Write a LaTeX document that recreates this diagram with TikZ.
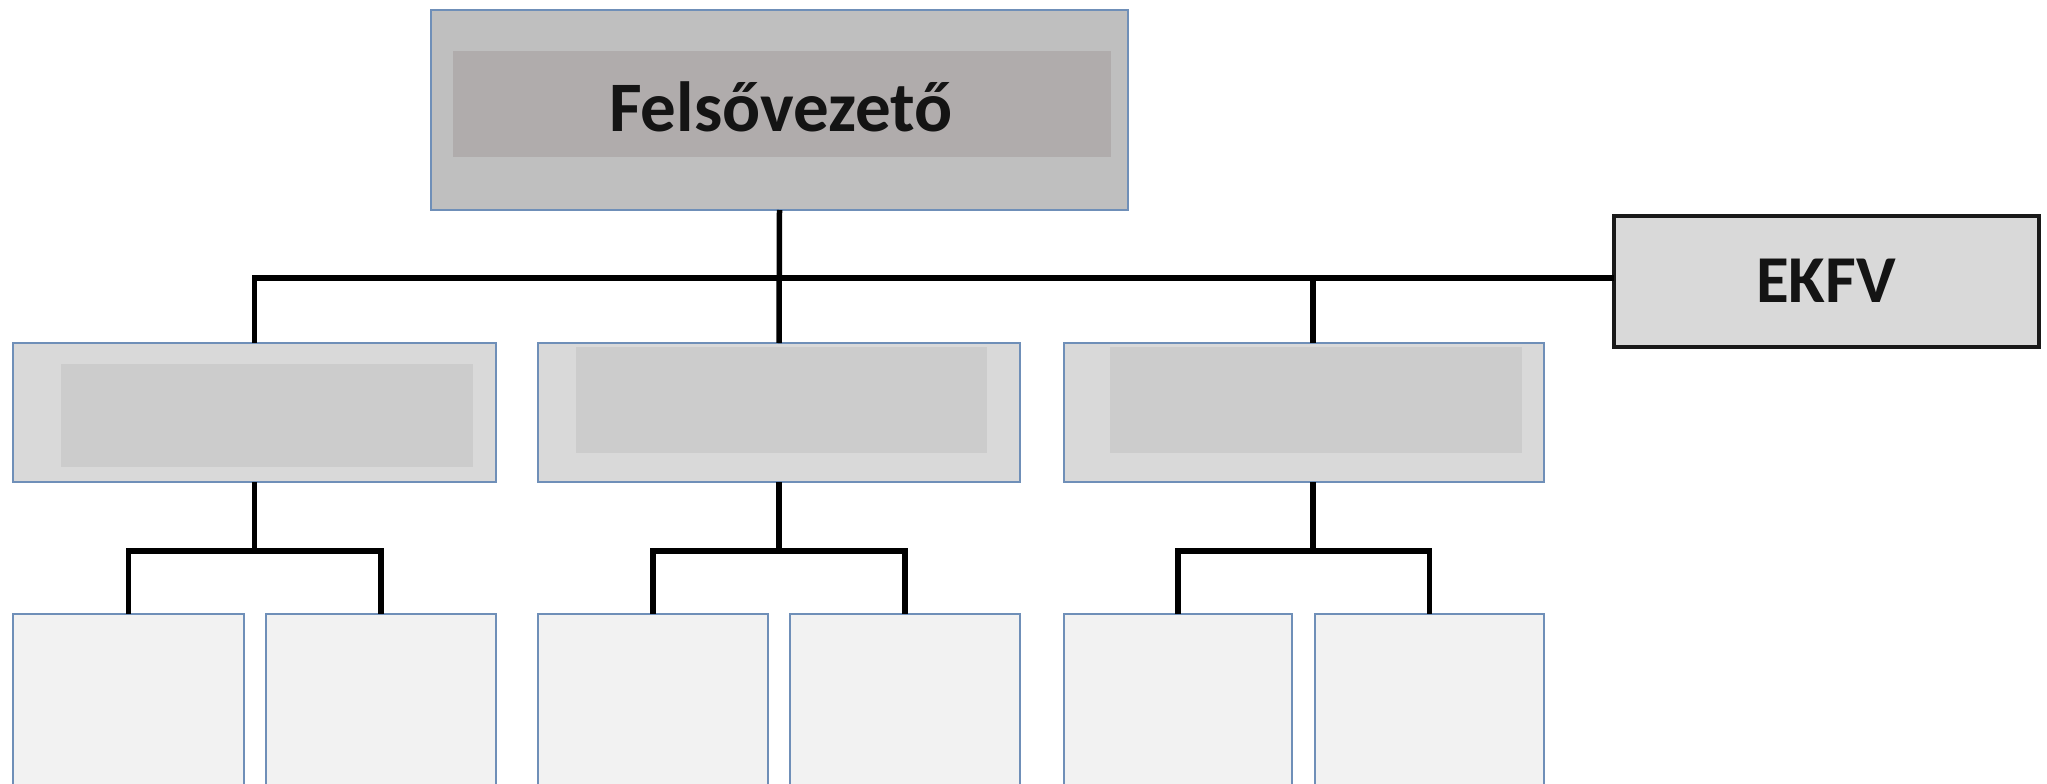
\documentclass[tikz,border=0pt]{standalone}
\usepackage{fontspec}
\setmainfont{Carlito}
\definecolor{topfill}{HTML}{BFBFBF}
\definecolor{topinner}{HTML}{B0ACAC}
\definecolor{midfill}{HTML}{D9D9D9}
\definecolor{midinner}{HTML}{CCCCCC}
\definecolor{botfill}{HTML}{F2F2F2}
\definecolor{edgeblue}{HTML}{6F8FB8}
\begin{document}
\begin{tikzpicture}[x=1pt,y=-1pt,
  box/.style={draw=edgeblue, line width=1.3pt, inner sep=0pt, outer sep=0pt, anchor=north west},
  innerbox/.style={inner sep=0pt, outer sep=0pt, anchor=north west, draw=none},
  conn/.style={line width=5.5pt, black},
  bigtext/.style={font=\bfseries\fontsize{71}{78}\selectfont, text=black!92}]
\useasboundingbox (0,0) rectangle (2047,784);
\clip (0,0) rectangle (2047,784);
\fill[white] (0,0) rectangle (2047,784);
% top box
\node[box, fill=topfill, minimum width=697, minimum height=200] (top) at (431,10) {};
\node[innerbox, fill=topinner, minimum width=658, minimum height=106] (topin) at (453,51) {};
\node[bigtext] (toptext) at (781,107) {Felsővezető};
% EKFV
\node[box, draw=black!90, line width=4pt, fill=midfill, minimum width=425, minimum height=131] (ekfv) at (1614,216) {};
\node[bigtext, font=\bfseries\fontsize{67}{74}\selectfont] (ekfvtext) at (1826,281) {EKFV};
% middle row
\node[box, fill=midfill, minimum width=483, minimum height=139] (m1) at (13,343) {};
\node[box, fill=midfill, minimum width=482, minimum height=139] (m2) at (538,343) {};
\node[box, fill=midfill, minimum width=480, minimum height=139] (m3) at (1064,343) {};
\node[innerbox, fill=midinner, minimum width=412, minimum height=103] (m1in) at (61,364) {};
\node[innerbox, fill=midinner, minimum width=411, minimum height=106] (m2in) at (576,347) {};
\node[innerbox, fill=midinner, minimum width=412, minimum height=106] (m3in) at (1110,347) {};
% bottom row
\node[box, fill=botfill, minimum width=231, minimum height=260] (b1a) at (13,614) {};
\node[box, fill=botfill, minimum width=230, minimum height=260] (b1b) at (266,614) {};
\node[box, fill=botfill, minimum width=230, minimum height=260] (b2a) at (538,614) {};
\node[box, fill=botfill, minimum width=230, minimum height=260] (b2b) at (790,614) {};
\node[box, fill=botfill, minimum width=228, minimum height=260] (b3a) at (1064,614) {};
\node[box, fill=botfill, minimum width=229, minimum height=260] (b3b) at (1315,614) {};
% connectors
\coordinate (bus) at (0,278);
\coordinate (sub) at (0,551);
\coordinate (m3top) at ([xshift=9pt]m3.north);
\coordinate (m3bot) at ([xshift=9pt]m3.south);
\draw[conn] (top.south) -- (m2.north);
\draw[conn] (m1.north) |- (ekfv.west |- bus);
\draw[conn] (m3top) -- (m3top |- bus);
\draw[conn] (m1.south) -- (m1.south |- sub);
\draw[conn] (m2.south) -- (m2.south |- sub);
\draw[conn] (m3bot) -- (m3bot |- sub);
\draw[conn] (b1a.north) |- (b1b.north |- sub) -- (b1b.north);
\draw[conn] (b2a.north) |- (b2b.north |- sub) -- (b2b.north);
\draw[conn] (b3a.north) |- (b3b.north |- sub) -- (b3b.north);
\end{tikzpicture}
\end{document}
